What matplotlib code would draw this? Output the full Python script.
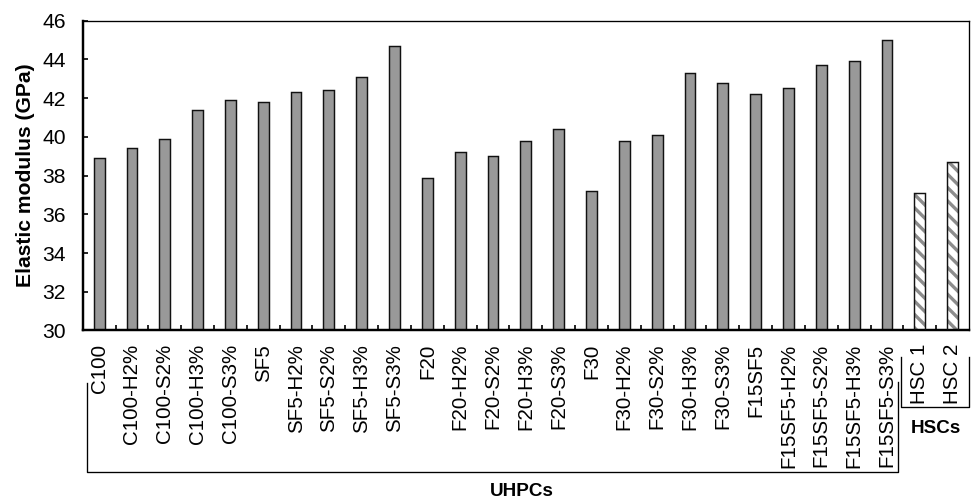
import matplotlib
matplotlib.use('Agg')
import matplotlib.pyplot as plt
import matplotlib.transforms as mtransforms
import numpy as np

plt.rcParams['font.family'] = ['Liberation Sans', 'DejaVu Sans']
plt.rcParams['hatch.linewidth'] = 3.0
plt.rcParams['hatch.color'] = '#8c8c8c'

# ---- data ----
uhpc_names = ['C100', 'C100-H2%', 'C100-S2%', 'C100-H3%', 'C100-S3%',
              'SF5', 'SF5-H2%', 'SF5-S2%', 'SF5-H3%', 'SF5-S3%',
              'F20', 'F20-H2%', 'F20-S2%', 'F20-H3%', 'F20-S3%',
              'F30', 'F30-H2%', 'F30-S2%', 'F30-H3%', 'F30-S3%',
              'F15SF5', 'F15SF5-H2%', 'F15SF5-S2%', 'F15SF5-H3%', 'F15SF5-S3%']
uhpc_vals = [38.9, 39.4, 39.9, 41.4, 41.9,
             41.8, 42.3, 42.4, 43.1, 44.7,
             37.9, 39.2, 39.0, 39.8, 40.4,
             37.2, 39.8, 40.1, 43.3, 42.8,
             42.2, 42.5, 43.7, 43.9, 45.0]
hsc_names = ['HSC 1', 'HSC 2']
hsc_vals = [37.1, 38.7]

DPI = 80
fig = plt.figure(figsize=(974 / DPI, 503 / DPI), dpi=DPI)
ax = fig.add_axes([0.0849, 0.343, 0.9100, 0.6158])

names = uhpc_names + hsc_names
x_u = np.arange(len(uhpc_names))
x_h = np.arange(len(uhpc_names), len(names))
bw = 0.33
base = 30

ax.bar(x_u, np.array(uhpc_vals) - base, bottom=base, width=bw,
       color='#999999', edgecolor='#111111', linewidth=1.3, zorder=2)
# hatched HSC bars: hatch layer then black outline
ax.bar(x_h, np.array(hsc_vals) - base, bottom=base, width=bw,
       color='white', edgecolor='#8c8c8c', hatch='\\\\', linewidth=0, zorder=2)
ax.bar(x_h, np.array(hsc_vals) - base, bottom=base, width=bw,
       color='none', edgecolor='#111111', linewidth=1.3, zorder=3)

ax.set_xlim(-0.5, len(names) - 0.5)
ax.set_ylim(30, 46)
ax.set_yticks(np.arange(30, 47, 2))
ax.tick_params(axis='y', direction='in', length=4.5, width=1.5,
               labelsize=19, pad=15)

ax.set_xticks(np.arange(len(names)))
ax.set_xticklabels(names, rotation=90, fontsize=18.5, va='top')
ax.set_xticks(np.arange(len(names) - 1) + 0.5, minor=True)
ax.tick_params(axis='x', which='major', length=0, pad=12)
ax.tick_params(axis='x', which='minor', direction='in', length=4.5, width=1.5)

ax.set_ylabel('Elastic modulus (GPa)', fontsize=19, fontweight='bold',
              labelpad=7)

for side in ['left', 'bottom']:
    ax.spines[side].set_linewidth(2.2)
for side in ['top', 'right']:
    ax.spines[side].set_linewidth(1.2)

# group brackets under the tick labels
tr = mtransforms.blended_transform_factory(ax.transData, ax.transAxes)
ax.plot([-0.37, -0.37, 24.33, 24.33], [-0.169, -0.456, -0.456, -0.166],
        color='black', linewidth=1.2, transform=tr, clip_on=False)
ax.plot([24.42, 24.42, 26.5, 26.5], [-0.085, -0.247, -0.247, -0.085],
        color='black', linewidth=1.2, transform=tr, clip_on=False)
ax.text(12.89, -0.521, 'UHPCs', transform=tr, ha='center', va='center',
        fontsize=17, fontweight='bold')
ax.text(25.49, -0.315, 'HSCs', transform=tr, ha='center', va='center',
        fontsize=17, fontweight='bold')

fig.savefig('out.png', dpi=DPI)
